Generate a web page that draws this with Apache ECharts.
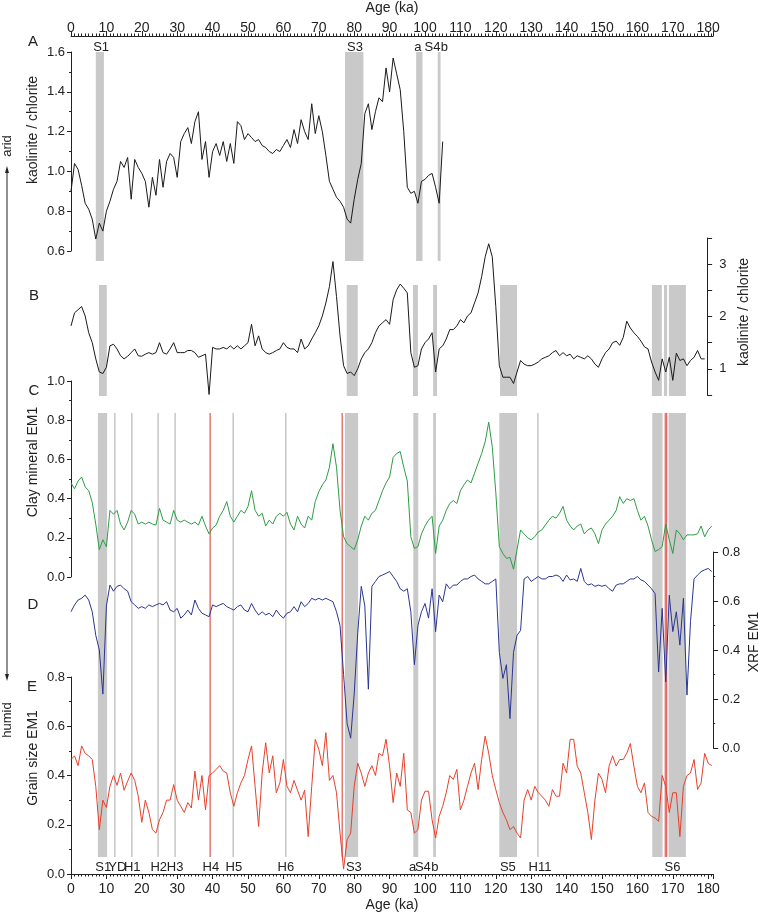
<!DOCTYPE html>
<html>
<head>
<meta charset="utf-8">
<script src="https://cdn.jsdelivr.net/npm/echarts@6/dist/echarts.min.js"></script>
<style>
    body { margin: 0; background: #fff; }
    #chart { width: 760px; height: 916px; }
</style>
</head>
<body>
<div id="chart"></div>
<script>
    // all records are sampled every 1 ka, starting at 0 ka
    const STEP = 1;

    // A: kaolinite / chlorite (upper record, 0-105 ka)
    const kaolA = [0.90, 1.04, 1.01, 0.93, 0.84, 0.81, 0.76, 0.66, 0.74, 0.70,
        0.80, 0.85, 0.91, 0.95, 1.05, 1.02, 1.07, 0.86, 1.06, 1.02,
        0.99, 0.95, 0.82, 0.97, 0.88, 1.06, 0.92, 1.05, 1.09, 1.07,
        0.97, 1.15, 1.19, 1.22, 1.14, 1.25, 1.30, 1.06, 1.15, 0.97,
        1.10, 1.14, 1.08, 1.15, 1.05, 1.14, 1.04, 1.25, 1.23, 1.16,
        1.19, 1.17, 1.15, 1.16, 1.13, 1.12, 1.10, 1.09, 1.11, 1.10,
        1.13, 1.16, 1.12, 1.21, 1.14, 1.26, 1.20, 1.16, 1.34, 1.19,
        1.28, 1.20, 1.08, 0.95, 0.91, 0.87, 0.85, 0.82, 0.76, 0.74,
        0.86, 0.96, 1.04, 1.29, 1.34, 1.21, 1.30, 1.37, 1.35, 1.52,
        1.40, 1.57, 1.49, 1.41, 1.20, 0.92, 0.89, 0.90, 0.84, 0.95,
        0.96, 0.98, 0.99, 0.92, 0.84, 1.15];

    // B: kaolinite / chlorite (lower record, 0-179 ka)
    const kaolB = [1.82, 2.07, 2.13, 2.19, 2.01, 1.69, 1.50, 1.19, 0.94, 0.91,
        1.03, 1.44, 1.47, 1.38, 1.25, 1.19, 1.24, 1.31, 1.38, 1.25,
        1.24, 1.28, 1.31, 1.28, 1.31, 1.50, 1.31, 1.28, 1.38, 1.50,
        1.31, 1.31, 1.31, 1.35, 1.35, 1.31, 1.22, 1.25, 1.28, 0.51,
        1.41, 1.38, 1.38, 1.41, 1.38, 1.44, 1.38, 1.44, 1.38, 1.44,
        1.50, 1.85, 1.44, 1.63, 1.38, 1.31, 1.28, 1.31, 1.35, 1.38,
        1.50, 1.41, 1.38, 1.38, 1.31, 1.57, 1.38, 1.44, 1.57, 1.69,
        1.82, 2.01, 2.26, 2.57, 3.05, 2.38, 1.63, 1.06, 0.91, 0.94,
        0.87, 1.00, 1.19, 1.31, 1.38, 1.50, 1.69, 1.82, 1.88, 1.94,
        1.85, 2.32, 2.51, 2.62, 2.54, 2.45, 1.31, 1.03, 1.06, 1.38,
        1.50, 1.57, 1.69, 0.94, 1.38, 1.44, 1.57, 1.75, 1.75, 1.82,
        1.94, 1.88, 2.01, 2.07, 2.26, 2.45, 2.76, 3.14, 3.39, 3.14,
        2.19, 1.06, 0.84, 0.84, 0.84, 0.72, 0.94, 1.16, 1.09, 1.06,
        1.06, 1.09, 1.13, 1.19, 1.22, 1.25, 1.31, 1.35, 1.25, 1.31,
        1.25, 1.28, 1.19, 1.25, 1.22, 1.19, 1.25, 1.19, 1.09, 1.03,
        1.19, 1.31, 1.38, 1.50, 1.53, 1.45, 1.60, 1.91, 1.78, 1.69,
        1.62, 1.53, 1.42, 1.38, 1.13, 0.94, 0.78, 1.19, 0.94, 1.22,
        0.78, 1.30, 1.16, 1.19, 1.06, 1.16, 1.22, 1.35, 1.19, 1.19];

    // C: clay mineral EM1 (0-181 ka)
    const clayEM1 = [0.48, 0.45, 0.49, 0.51, 0.46, 0.44, 0.38, 0.27, 0.14, 0.19,
        0.155, 0.34, 0.32, 0.34, 0.27, 0.24, 0.28, 0.34, 0.32, 0.27,
        0.28, 0.27, 0.28, 0.27, 0.265, 0.35, 0.29, 0.28, 0.27, 0.34,
        0.29, 0.28, 0.29, 0.28, 0.27, 0.28, 0.265, 0.31, 0.26, 0.22,
        0.25, 0.265, 0.31, 0.34, 0.385, 0.31, 0.28, 0.31, 0.34, 0.325,
        0.36, 0.44, 0.34, 0.31, 0.325, 0.26, 0.29, 0.27, 0.31, 0.325,
        0.31, 0.33, 0.27, 0.24, 0.31, 0.27, 0.25, 0.31, 0.29, 0.385,
        0.435, 0.47, 0.495, 0.56, 0.68, 0.56, 0.34, 0.205, 0.17, 0.155,
        0.14, 0.19, 0.26, 0.31, 0.29, 0.325, 0.34, 0.39, 0.44, 0.48,
        0.51, 0.61, 0.63, 0.64, 0.56, 0.49, 0.205, 0.146, 0.155, 0.22,
        0.26, 0.29, 0.31, 0.12, 0.26, 0.29, 0.34, 0.375, 0.39, 0.375,
        0.44, 0.47, 0.495, 0.48, 0.53, 0.58, 0.63, 0.69, 0.79, 0.665,
        0.43, 0.155, 0.12, 0.095, 0.10, 0.04, 0.14, 0.24, 0.22, 0.20,
        0.19, 0.205, 0.23, 0.24, 0.265, 0.29, 0.31, 0.30, 0.325, 0.36,
        0.29, 0.26, 0.24, 0.26, 0.27, 0.22, 0.24, 0.25, 0.22, 0.17,
        0.24, 0.27, 0.29, 0.31, 0.34, 0.41, 0.375, 0.40, 0.39, 0.40,
        0.34, 0.29, 0.31, 0.26, 0.19, 0.13, 0.14, 0.155, 0.27, 0.19,
        0.12, 0.24, 0.22, 0.19, 0.215, 0.215, 0.215, 0.22, 0.26, 0.205,
        0.24, 0.26];

    // D: XRF EM1 (0-181 ka)
    const xrfEM1 = [0.556, 0.584, 0.604, 0.611, 0.624, 0.604, 0.556, 0.46, 0.40, 0.22,
        0.58, 0.665, 0.64, 0.66, 0.665, 0.65, 0.64, 0.597, 0.584, 0.57,
        0.577, 0.57, 0.584, 0.577, 0.584, 0.59, 0.584, 0.597, 0.563, 0.556,
        0.57, 0.53, 0.543, 0.563, 0.543, 0.604, 0.57, 0.55, 0.543, 0.536,
        0.584, 0.577, 0.584, 0.59, 0.577, 0.57, 0.563, 0.577, 0.584, 0.563,
        0.556, 0.59, 0.563, 0.543, 0.556, 0.543, 0.55, 0.536, 0.563, 0.543,
        0.53, 0.55, 0.556, 0.577, 0.556, 0.597, 0.577, 0.59, 0.611, 0.604,
        0.611, 0.604, 0.611, 0.604, 0.597, 0.556, 0.50, 0.30, 0.10, 0.04,
        0.22, 0.47, 0.66, 0.58, 0.24, 0.66, 0.68, 0.70, 0.706, 0.713,
        0.72, 0.70, 0.68, 0.65, 0.64, 0.65, 0.556, 0.34, 0.50, 0.556,
        0.59, 0.53, 0.65, 0.475, 0.624, 0.597, 0.67, 0.65, 0.665, 0.665,
        0.68, 0.69, 0.69, 0.70, 0.706, 0.69, 0.68, 0.67, 0.67, 0.68,
        0.69, 0.39, 0.284, 0.34, 0.12, 0.39, 0.46, 0.48, 0.69, 0.70,
        0.68, 0.69, 0.70, 0.69, 0.69, 0.70, 0.70, 0.706, 0.70, 0.68,
        0.706, 0.686, 0.69, 0.68, 0.733, 0.68, 0.665, 0.67, 0.66, 0.665,
        0.66, 0.665, 0.65, 0.64, 0.665, 0.67, 0.67, 0.68, 0.69, 0.69,
        0.70, 0.686, 0.68, 0.665, 0.65, 0.63, 0.31, 0.57, 0.27, 0.624,
        0.475, 0.556, 0.42, 0.611, 0.216, 0.516, 0.69, 0.706, 0.72, 0.727,
        0.733, 0.72];

    // E: grain size EM1 (0-181 ka)
    const grainEM1 = [0.465, 0.48, 0.44, 0.52, 0.49, 0.48, 0.465, 0.356, 0.18, 0.30,
        0.27, 0.356, 0.40, 0.36, 0.41, 0.34, 0.377, 0.41, 0.38, 0.316,
        0.21, 0.30, 0.25, 0.18, 0.166, 0.22, 0.25, 0.30, 0.30, 0.363,
        0.30, 0.275, 0.25, 0.29, 0.268, 0.418, 0.30, 0.40, 0.26, 0.40,
        0.41, 0.425, 0.44, 0.418, 0.41, 0.33, 0.275, 0.33, 0.37, 0.40,
        0.465, 0.52, 0.356, 0.193, 0.41, 0.533, 0.41, 0.48, 0.33, 0.37,
        0.465, 0.356, 0.33, 0.38, 0.34, 0.30, 0.34, 0.152, 0.356, 0.547,
        0.506, 0.44, 0.574, 0.38, 0.40, 0.33, 0.166, 0.02, 0.14, 0.166,
        0.356, 0.45, 0.41, 0.356, 0.41, 0.44, 0.40, 0.49, 0.48, 0.547,
        0.438, 0.29, 0.41, 0.356, 0.49, 0.26, 0.25, 0.166, 0.18, 0.30,
        0.336, 0.336, 0.22, 0.146, 0.234, 0.275, 0.33, 0.40, 0.384, 0.425,
        0.26, 0.30, 0.356, 0.41, 0.45, 0.343, 0.465, 0.56, 0.49, 0.40,
        0.343, 0.29, 0.25, 0.22, 0.18, 0.193, 0.166, 0.146, 0.30, 0.343,
        0.30, 0.356, 0.33, 0.316, 0.30, 0.275, 0.343, 0.316, 0.316, 0.45,
        0.41, 0.547, 0.547, 0.438, 0.41, 0.33, 0.25, 0.14, 0.30, 0.41,
        0.384, 0.33, 0.438, 0.48, 0.438, 0.465, 0.465, 0.49, 0.53, 0.438,
        0.356, 0.33, 0.37, 0.25, 0.234, 0.227, 0.214, 0.40, 0.356, 0.25,
        0.33, 0.33, 0.152, 0.356, 0.40, 0.41, 0.465, 0.343, 0.37, 0.49,
        0.45, 0.44];

    // shaded intervals [start, end] in ka
    const barsA = [[7.0, 9.3], [77.4, 82.6], [97.5, 99.3], [103.6, 104.4]];
    const barsB = [[7.9, 10.1], [77.9, 81.0], [96.6, 98.0], [102.3, 103.4], [121.2, 126.0],
        [164.1, 166.9], [167.5, 168.4], [168.9, 173.7]];
    const barsCE = [[7.6, 10.2], [77.4, 81.1], [96.7, 98.1], [102.3, 103.1], [121.0, 126.0],
        [164.2, 167.1], [168.8, 173.7]];
    const pinkBand = [[167.6, 168.5]];

    // event lines (ka)
    const greyLines = [12.4, 17.2, 24.6, 29.4, 45.8, 60.7, 131.9];
    const redLines = [39.3, 76.6, 168.1];

    // event labels [text, ka]
    const labelsA = [['S1', 8.5], ['S3', 80.2], ['a', 98.0], ['S4', 102.1], ['b', 105.5]];
    const labelsE = [['S1', 9.1], ['YD', 13.1], ['H1', 17.3], ['H2', 24.8], ['H3', 29.4],
        ['H4', 39.5], ['H5', 46.0], ['H6', 60.7], ['S3', 79.9], ['a', 96.5], ['S4', 99.4],
        ['b', 102.8], ['S5', 123.4], ['H11', 132.5], ['S6', 169.9]];

    const PX = 3.54;      // pixels per ka
    const LEFT = 71;
    const END = 181.4;    // right end of the age axes
    const END_B = 179.7;
    const FONT = 'Liberation Sans, Arial, sans-serif';
    const INK = '#222';
    const BAR = '#c9c9c9';

    const chart = echarts.init(document.getElementById('chart'));

    const toXY = arr => arr.map((v, i) => [i * STEP, v]);

    const grid = (top, height, end) => ({ left: LEFT, top, height, width: (end || END) * PX });

    const hiddenX = (gi, end) => ({ gridIndex: gi, type: 'value', min: 0, max: end || END, show: false });
    const hiddenY = gi => ({ gridIndex: gi, type: 'value', min: 0, max: 1, show: false });

    const valueY = (gi, pos, min, max, interval, opt) => Object.assign({
        gridIndex: gi, type: 'value', position: pos, min, max, interval,
        splitLine: { show: false },
        axisLine: { show: true, onZero: false, lineStyle: { color: INK, width: 1 } },
        axisTick: { show: true, length: 4, lineStyle: { color: INK } },
        minorTick: { show: true, splitNumber: 2, length: 2, lineStyle: { color: INK } },
        axisLabel: { color: INK, fontFamily: FONT, fontSize: 13, margin: 6, formatter: v => v.toFixed(1) }
    }, opt || {});

    const ageAxis = (gi, pos, opt) => Object.assign({
        gridIndex: gi, type: 'value', position: pos, min: 0, max: END, interval: 10,
        name: 'Age (ka)', nameLocation: 'middle',
        nameTextStyle: { color: INK, fontFamily: FONT, fontSize: 14 },
        splitLine: { show: false },
        axisLine: { show: true, onZero: false, lineStyle: { color: INK, width: 1 } },
        axisTick: { show: true, length: 5, lineStyle: { color: INK } },
        minorTick: { show: true, splitNumber: 10, length: 2.5, lineStyle: { color: INK } },
        axisLabel: { color: INK, fontFamily: FONT, fontSize: 14 }
    }, opt);

    function barItem(color) {
        return (params, api) => {
            const p0 = api.coord([api.value(0), 1]);
            const p1 = api.coord([api.value(1), 0]);
            return {
                type: 'rect',
                shape: { x: p0[0], y: p0[1], width: p1[0] - p0[0], height: p1[1] - p0[1] },
                style: { fill: color }
            };
        };
    }

    function lineItem(color) {
        return (params, api) => {
            const a = api.coord([api.value(0), 1]);
            const b = api.coord([api.value(0), 0]);
            return {
                type: 'line',
                shape: { x1: a[0], y1: a[1], x2: b[0], y2: b[1] },
                style: { stroke: color, lineWidth: 1 }
            };
        };
    }

    function textItem(list) {
        return (params, api) => {
            const p = api.coord([api.value(0), 0.5]);
            return {
                type: 'text', x: p[0], y: p[1],
                style: {
                    text: list[params.dataIndex][0], fill: INK, font: '13px ' + FONT,
                    textAlign: 'center', textVerticalAlign: 'middle'
                }
            };
        };
    }

    const custom = (gi, data, renderItem) => ({
        type: 'custom', xAxisIndex: gi, yAxisIndex: gi, z: 1, silent: true,
        renderItem, data, encode: { x: 0 }
    });

    const trace = (gi, arr, color) => ({
        type: 'line', xAxisIndex: gi, yAxisIndex: gi, z: 3,
        data: toXY(arr), symbol: 'none', showSymbol: false,
        lineStyle: { color, width: 1 }, clip: true
    });

    const option = {
        animation: false,
        grid: [
            grid(50, 201),          // 0 A
            grid(238, 157, END_B),  // 1 B
            grid(381, 196),         // 2 C
            grid(552, 196),         // 3 D
            grid(677, 197),         // 4 E
            grid(52, 209),          // 5 bars A
            grid(285, 111),         // 6 bars B
            grid(413, 444),         // 7 bars + lines C-E
            grid(40, 14),           // 8 labels A
            grid(860, 14)           // 9 labels E
        ],
        xAxis: [
            ageAxis(0, 'top', { offset: 16, nameGap: 21, axisLabel: { color: INK, fontFamily: FONT, fontSize: 14, margin: 1 } }),
            hiddenX(1, END_B),
            hiddenX(2),
            hiddenX(3),
            ageAxis(4, 'bottom', { nameGap: 24, axisLabel: { color: INK, fontFamily: FONT, fontSize: 14, margin: 8 } }),
            hiddenX(5), hiddenX(6), hiddenX(7), hiddenX(8), hiddenX(9)
        ],
        yAxis: [
            valueY(0, 'left', 0.6, 1.6, 0.2),
            valueY(1, 'right', 0.5, 3.5, 0.5, {
                minorTick: { show: false },
                axisTick: { show: true, length: 5, lineStyle: { color: INK } },
                axisLabel: {
                    color: INK, fontFamily: FONT, fontSize: 13, margin: 12,
                    formatter: v => (Number.isInteger(v) ? String(v) : '')
                }
            }),
            valueY(2, 'left', 0, 1.0, 0.2),
            valueY(3, 'right', 0, 0.8, 0.2, {
                axisTick: { show: true, length: 5, lineStyle: { color: INK } },
                axisLabel: { color: INK, fontFamily: FONT, fontSize: 13, margin: 9, formatter: v => v.toFixed(1) }
            }),
            valueY(4, 'left', 0, 0.8, 0.2),
            hiddenY(5), hiddenY(6), hiddenY(7), hiddenY(8), hiddenY(9)
        ],
        series: [
            custom(5, barsA, barItem(BAR)),
            custom(6, barsB, barItem(BAR)),
            custom(7, barsCE, barItem(BAR)),
            custom(7, pinkBand, barItem('#eeb0ad')),
            custom(7, greyLines.map(v => [v]), lineItem('#a9a9a9')),
            custom(7, redLines.map(v => [v]), lineItem('#d8322c')),
            custom(8, labelsA.map(d => [d[1]]), textItem(labelsA)),
            custom(9, labelsE.map(d => [d[1]]), textItem(labelsE)),
            trace(0, kaolA, '#1a1a1a'),
            trace(1, kaolB, '#1a1a1a'),
            trace(2, clayEM1, '#2e9c45'),
            trace(3, xrfEM1, '#2a3593'),
            trace(4, grainEM1, '#e5402b')
        ],
        graphic: [
            // panel letters
            { type: 'text', x: 33, y: 42, style: { text: 'A', font: '15px ' + FONT, fill: INK, textAlign: 'center', textVerticalAlign: 'middle' } },
            { type: 'text', x: 34, y: 296, style: { text: 'B', font: '15px ' + FONT, fill: INK, textAlign: 'center', textVerticalAlign: 'middle' } },
            { type: 'text', x: 34, y: 391, style: { text: 'C', font: '15px ' + FONT, fill: INK, textAlign: 'center', textVerticalAlign: 'middle' } },
            { type: 'text', x: 33, y: 605, style: { text: 'D', font: '15px ' + FONT, fill: INK, textAlign: 'center', textVerticalAlign: 'middle' } },
            { type: 'text', x: 32, y: 687, style: { text: 'E', font: '15px ' + FONT, fill: INK, textAlign: 'center', textVerticalAlign: 'middle' } },
            // axis titles
            { type: 'text', x: 33, y: 130, rotation: Math.PI / 2, style: { text: 'kaolinite / chlorite', font: '14px ' + FONT, fill: INK, textAlign: 'center', textVerticalAlign: 'middle' } },
            { type: 'text', x: 744, y: 312, rotation: Math.PI / 2, style: { text: 'kaolinite / chlorite', font: '14px ' + FONT, fill: INK, textAlign: 'center', textVerticalAlign: 'middle' } },
            { type: 'text', x: 33, y: 462, rotation: Math.PI / 2, style: { text: 'Clay mineral EM1', font: '14px ' + FONT, fill: INK, textAlign: 'center', textVerticalAlign: 'middle' } },
            { type: 'text', x: 754, y: 642, rotation: Math.PI / 2, style: { text: 'XRF EM1', font: '14px ' + FONT, fill: INK, textAlign: 'center', textVerticalAlign: 'middle' } },
            { type: 'text', x: 33, y: 758, rotation: Math.PI / 2, style: { text: 'Grain size EM1', font: '14px ' + FONT, fill: INK, textAlign: 'center', textVerticalAlign: 'middle' } },
            // arid / humid arrow
            { type: 'line', shape: { x1: 7, y1: 170, x2: 7, y2: 677 }, style: { stroke: INK, lineWidth: 1 } },
            { type: 'polygon', shape: { points: [[7, 166], [5, 173], [9, 173]] }, style: { fill: INK } },
            { type: 'polygon', shape: { points: [[7, 681], [5, 674], [9, 674]] }, style: { fill: INK } },
            { type: 'text', x: 7, y: 146, rotation: Math.PI / 2, style: { text: 'arid', font: '13px ' + FONT, fill: INK, textAlign: 'center', textVerticalAlign: 'middle' } },
            { type: 'text', x: 7, y: 720, rotation: Math.PI / 2, style: { text: 'humid', font: '13px ' + FONT, fill: INK, textAlign: 'center', textVerticalAlign: 'middle' } }
        ]
    };

    chart.setOption(option);
</script>
</body>
</html>
